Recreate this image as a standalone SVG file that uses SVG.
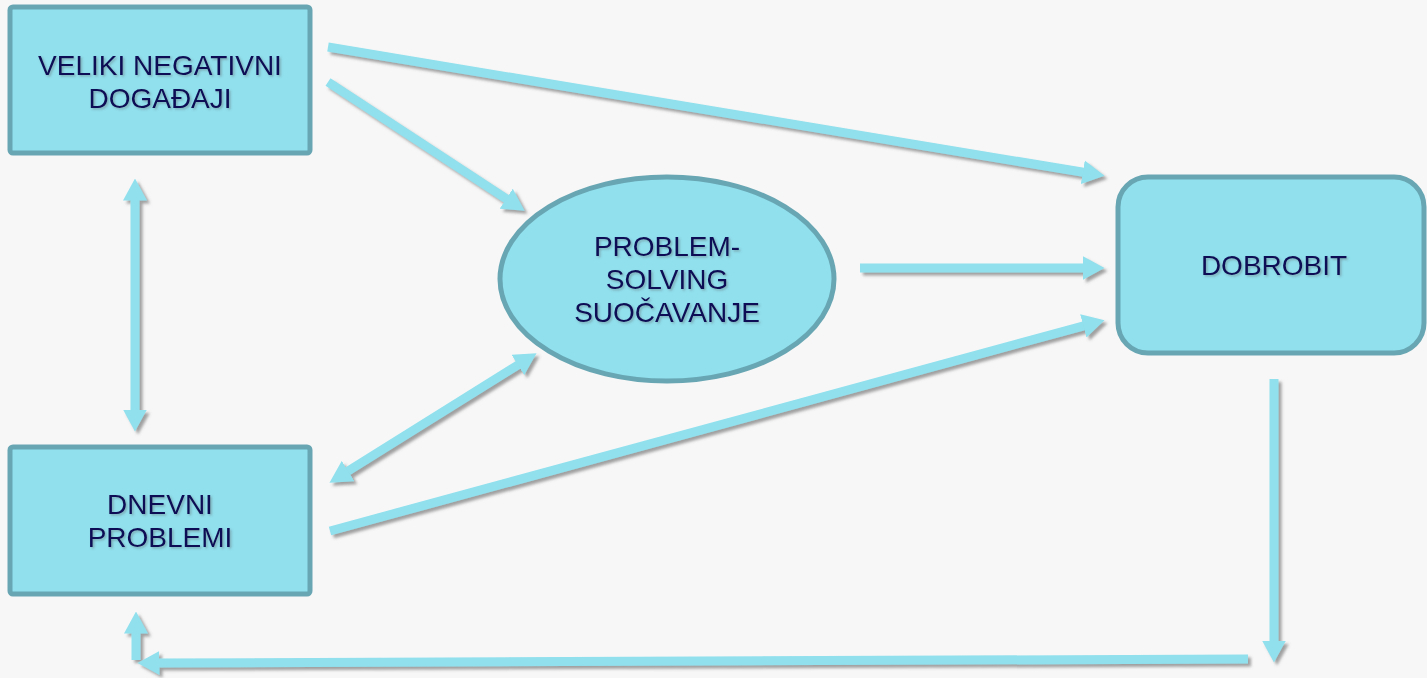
<svg xmlns="http://www.w3.org/2000/svg" width="1427" height="678" viewBox="0 0 1427 678">
<style>
.node{fill:#91e0ee;stroke:#68a6b3;stroke-width:5}
.lbl{font-family:"Liberation Sans",Arial,sans-serif;font-size:28px;fill:#0b0b55;text-anchor:middle;filter:url(#ts)}
.arr{stroke:#90e0ee;stroke-width:9;fill:none;marker-end:url(#head)}
.dbl{marker-start:url(#headS)}
</style>
<defs>
<filter id="sh" x="-10%" y="-10%" width="120%" height="120%">
<feDropShadow dx="3" dy="3" stdDeviation="1.5" flood-color="#666" flood-opacity="0.6"/>
</filter>
<filter id="ts" x="-10%" y="-20%" width="120%" height="140%">
<feDropShadow dx="1.5" dy="1.5" stdDeviation="1" flood-color="#555" flood-opacity="0.4"/>
</filter>
<marker id="head" viewBox="0 0 22 24" refX="0.5" refY="12" markerWidth="22" markerHeight="24" markerUnits="userSpaceOnUse" orient="auto">
<path d="M0,0 L22,12 L0,24 Z" fill="#90e0ee"/>
</marker>
<marker id="headS" viewBox="0 0 22 24" refX="0.5" refY="12" markerWidth="22" markerHeight="24" markerUnits="userSpaceOnUse" orient="auto-start-reverse">
<path d="M0,0 L22,12 L0,24 Z" fill="#90e0ee"/>
</marker>
</defs>
<rect width="1427" height="678" fill="#f7f7f7"/>
<g id="connectors" filter="url(#sh)">
<line class="arr" x1="328" y1="47" x2="1083.3" y2="172.3"/>
<line class="arr" x1="328" y1="82" x2="506.6" y2="199"/>
<line class="arr" x1="860" y1="268" x2="1083" y2="268"/>
<line class="arr" x1="330" y1="531" x2="1083.8" y2="325.8"/>
<line class="arr dbl" x1="347.7" y1="471.3" x2="518.3" y2="364.7"/>
<line class="arr dbl" x1="135" y1="200" x2="135" y2="410"/>
<line class="arr" x1="1274" y1="379" x2="1274" y2="641"/>
<line class="arr" x1="1248" y1="659" x2="159" y2="663"/>
<line class="arr" x1="136" y1="660" x2="136" y2="633"/>
</g>
<g id="n-veliki">
<rect class="node" x="10" y="7" width="300" height="146" rx="3"/>
<text class="lbl" x="160" y="75">VELIKI NEGATIVNI</text>
<text class="lbl" x="160" y="108">DOGAĐAJI</text>
</g>
<g id="n-dnevni">
<rect class="node" x="10" y="447" width="300" height="147" rx="3"/>
<text class="lbl" x="160" y="514">DNEVNI</text>
<text class="lbl" x="160" y="547">PROBLEMI</text>
</g>
<g id="n-problem">
<ellipse class="node" cx="667" cy="279" rx="167" ry="102"/>
<text class="lbl" x="667" y="256">PROBLEM-</text>
<text class="lbl" x="667" y="289">SOLVING</text>
<text class="lbl" x="667" y="322">SUOČAVANJE</text>
</g>
<g id="n-dobrobit">
<rect class="node" x="1118" y="177" width="306" height="176" rx="30"/>
<text class="lbl" x="1274" y="275">DOBROBIT</text>
</g>
</svg>
